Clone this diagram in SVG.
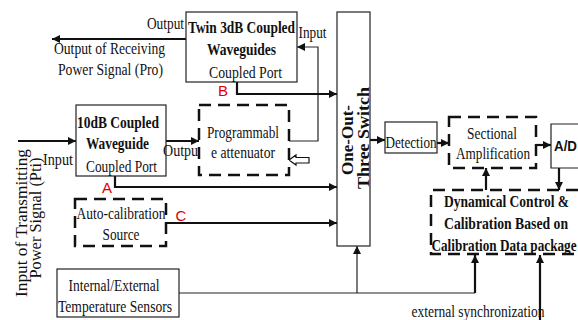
<svg xmlns="http://www.w3.org/2000/svg" width="578" height="320" viewBox="0 0 578 320">
<defs>
<style>
.box{fill:#fff;stroke:#222;stroke-width:1.2}
.dbox{fill:#fff;stroke:#111;stroke-width:2.5;stroke-dasharray:12 7}
.t{font-family:"Liberation Serif","Times New Roman",serif;font-size:16px;fill:#111;text-anchor:middle}
.b{font-weight:bold}
.lab{font-family:"Liberation Sans",Arial,sans-serif;font-size:15px;fill:#e00000;text-anchor:middle}
.thick{fill:none;stroke:#111;stroke-width:2.2}
.thin{fill:none;stroke:#222;stroke-width:1.2}
</style>
<marker id="ah" viewBox="0 0 10 10" refX="10" refY="5" markerWidth="9" markerHeight="8" markerUnits="userSpaceOnUse" orient="auto">
<path d="M0,0 L10,5 L0,10 z" fill="#111"/>
</marker>
</defs>
<rect width="578" height="320" fill="#fff"/>

<g id="connectors">
<path class="thick" d="M186,39 H52" marker-end="url(#ah)"/>
<path class="thick" d="M18,141 H76" marker-end="url(#ah)"/>
<path class="thick" d="M166,141 H199" marker-end="url(#ah)"/>
<path class="thin" d="M289,141 H318 V47 H297" marker-end="url(#ah)"/>
<path class="thick" d="M237,82 V94 H337" marker-end="url(#ah)"/>
<path class="thick" d="M115,176 V187 H337" marker-end="url(#ah)"/>
<path class="thick" d="M166,223 H337" marker-end="url(#ah)"/>
<path class="thick" d="M370,140 H385" marker-end="url(#ah)"/>
<path class="thick" d="M437,143 H449" marker-end="url(#ah)"/>
<path class="thick" d="M536,145 H551" marker-end="url(#ah)"/>
<path class="thick" d="M559,168 V190" marker-end="url(#ah)"/>
<path class="thick" d="M486,190 V168" marker-end="url(#ah)"/>
<path class="thin" d="M179,293 H475"/>
<path class="thin" d="M357,293 V246" marker-end="url(#ah)"/>
<path class="thick" d="M475,293 V255" marker-end="url(#ah)"/>
<path class="thick" d="M540,320 V255" marker-end="url(#ah)"/>
<polygon points="289,160 296,155 296,157.5 309,157.5 309,163 296,163 296,165" fill="#fff" stroke="#111" stroke-width="1.2"/>
</g>

<g id="twin">
<rect class="box" x="186" y="12" width="111" height="70"/>
<text class="t b" x="241.5" y="33" textLength="107" lengthAdjust="spacingAndGlyphs">Twin 3dB Coupled</text>
<text class="t b" x="241.5" y="55" textLength="69" lengthAdjust="spacingAndGlyphs">Waveguides</text>
<text class="t" x="245.5" y="78" textLength="73" lengthAdjust="spacingAndGlyphs">Coupled Port</text>
</g>

<g id="labels-top">
<text class="t" x="165.5" y="29" textLength="37" lengthAdjust="spacingAndGlyphs">Output</text>
<text class="t" x="109.5" y="54" textLength="111" lengthAdjust="spacingAndGlyphs">Output of Receiving</text>
<text class="t" x="110.5" y="75" textLength="105" lengthAdjust="spacingAndGlyphs">Power Signal (Pro)</text>
<text class="t" x="312.5" y="38" textLength="28" lengthAdjust="spacingAndGlyphs">Input</text>
<text class="lab" x="223" y="96">B</text>
</g>

<g id="coupler10">
<rect class="box" x="76" y="105" width="90" height="71"/>
<text class="t b" x="118" y="128" textLength="82" lengthAdjust="spacingAndGlyphs">10dB Coupled</text>
<text class="t b" x="117.5" y="149" textLength="63" lengthAdjust="spacingAndGlyphs">Waveguide</text>
<text class="t" x="121.5" y="172" textLength="71" lengthAdjust="spacingAndGlyphs">Coupled Port</text>
<text class="t" x="58" y="165" textLength="30" lengthAdjust="spacingAndGlyphs">Input</text>
<text class="t" x="182.5" y="156" textLength="39" lengthAdjust="spacingAndGlyphs">Output</text>
<text class="lab" x="107" y="193">A</text>
</g>

<g id="input-label">
<text class="t" transform="translate(27,223) rotate(-90)" style="font-size:17px" textLength="148" lengthAdjust="spacingAndGlyphs">Input of Transmitting</text>
<text class="t" transform="translate(41,218) rotate(-90)" style="font-size:17px" textLength="121" lengthAdjust="spacingAndGlyphs">Power Signal (Pti)</text>
</g>

<g id="attenuator">
<rect class="dbox" x="199" y="105" width="90" height="70"/>
<text class="t" x="243" y="138" textLength="72" lengthAdjust="spacingAndGlyphs">Programmabl</text>
<text class="t" x="243" y="158" textLength="64" lengthAdjust="spacingAndGlyphs">e attenuator</text>
</g>

<g id="autocal">
<rect class="dbox" x="75" y="199" width="91" height="47"/>
<text class="t" x="121" y="219" textLength="89" lengthAdjust="spacingAndGlyphs">Auto-calibration</text>
<text class="t" x="121" y="240" textLength="37" lengthAdjust="spacingAndGlyphs">Source</text>
<text class="lab" x="181" y="221">C</text>
</g>

<g id="temp">
<rect class="box" x="57" y="269" width="122" height="48"/>
<text class="t" x="114" y="291" textLength="91" lengthAdjust="spacingAndGlyphs">Internal/External</text>
<text class="t" x="115" y="312" textLength="114" lengthAdjust="spacingAndGlyphs">Temperature Sensors</text>
</g>

<g id="switch">
<rect class="box" x="337" y="12" width="33" height="234"/>
<text class="t b" transform="translate(353,140) rotate(-90)" style="font-size:17px" textLength="70" lengthAdjust="spacingAndGlyphs">One-Out-</text>
<text class="t b" transform="translate(369,138) rotate(-90)" style="font-size:17px" textLength="102" lengthAdjust="spacingAndGlyphs">Three Switch</text>
</g>

<g id="detection">
<rect class="box" x="385" y="122" width="52" height="31"/>
<text class="t" x="411" y="148" textLength="51" lengthAdjust="spacingAndGlyphs">Detection</text>
</g>

<g id="sectional">
<rect class="dbox" x="449" y="117" width="87" height="51"/>
<text class="t" x="492" y="139" textLength="50" lengthAdjust="spacingAndGlyphs">Sectional</text>
<text class="t" x="493" y="159" textLength="74" lengthAdjust="spacingAndGlyphs">Amplification</text>
</g>

<g id="ad">
<path d="M578,124 H551 V168 H578" fill="#fff" stroke="#222" stroke-width="1.2"/>
<text x="554" y="151" textLength="23" lengthAdjust="spacingAndGlyphs" style="font-family:'Liberation Sans',Arial,sans-serif;font-size:15px;font-weight:bold;fill:#111">A/D</text>
</g>

<g id="dynamic">
<path class="dbox" d="M578,190 H431 V254 H578"/>
<text class="t b" x="506.5" y="207" textLength="125" lengthAdjust="spacingAndGlyphs">Dynamical Control &amp;</text>
<text class="t b" x="506" y="229" textLength="124" lengthAdjust="spacingAndGlyphs">Calibration Based on</text>
<text class="t b" x="504" y="251" textLength="145" lengthAdjust="spacingAndGlyphs">Calibration Data package</text>
</g>

<g id="sync">
<text class="t" x="478" y="317" textLength="133" lengthAdjust="spacingAndGlyphs">external synchronization</text>
</g>
</svg>
